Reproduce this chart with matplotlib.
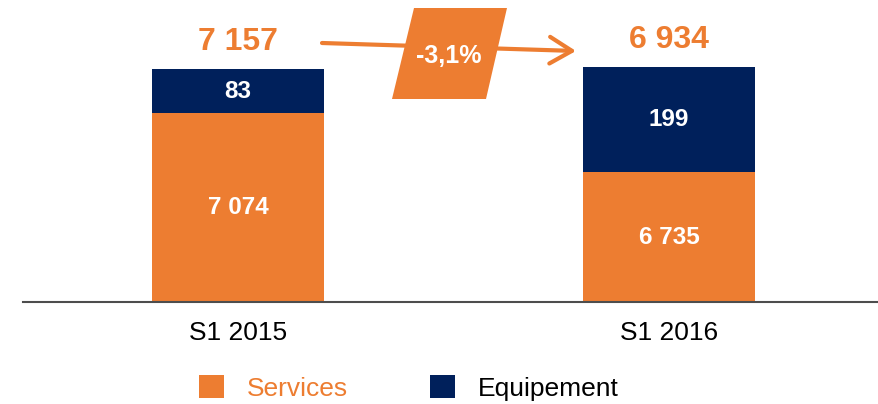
import matplotlib
matplotlib.use('Agg')
import matplotlib.pyplot as plt
from matplotlib.patches import Patch, Polygon

# data
periods = ['S1 2015', 'S1 2016']
services = [7074, 6735]
equipement = [83, 199]
series_names = ['Services', 'Equipement']

ORANGE = '#ED7D31'
NAVY = '#00205B'

# the original slide is not to scale: services sit on a cut axis and the
# equipement block is stretched so the small numbers stay readable
SERV_BASE = 5990
EQ_SCALE = 3.05

W, H = 879, 404
UNITS_PER_PX = 5.747
BASE_PX = 302          # baseline, px from top
X0_PX, STEP_PX = 238, 431

plt.rcParams['font.family'] = ['Liberation Sans', 'DejaVu Sans']
NARROW = ['Liberation Sans Narrow', 'Liberation Sans', 'DejaVu Sans']


def fmt(v):
    return f'{v:,}'.replace(',', ' ')


def fig_xy(x, y):
    # pixel position (from top-left) -> figure fraction
    return x / W, 1 - y / H


def main():
    fig = plt.figure(figsize=(W / 100, H / 100), dpi=100)
    ax = fig.add_axes([0, 0, 1, 1])
    ax.set_xlim(-X0_PX / STEP_PX, (W - X0_PX) / STEP_PX)
    ax.set_ylim(-(H - BASE_PX) * UNITS_PER_PX, BASE_PX * UNITS_PER_PX)
    ax.axis('off')

    xs = list(range(len(periods)))
    serv_h = [s - SERV_BASE for s in services]
    eq_h = [e * EQ_SCALE for e in equipement]
    width = 172 / STEP_PX

    ax.bar(xs, serv_h, width, color=ORANGE, linewidth=0)
    ax.bar(xs, eq_h, width, bottom=serv_h, color=NAVY, linewidth=0)
    ax.axhline(0, xmin=23 / W, xmax=1, color='#4d4d4d', lw=1.5)

    for i in xs:
        ax.text(i, serv_h[i] / 2, fmt(services[i]), ha='center', va='center',
                color='white', fontsize=17.5, fontweight='bold', family=NARROW)
        ax.text(i, serv_h[i] + eq_h[i] / 2, fmt(equipement[i]), ha='center',
                va='center', color='white', fontsize=17.5, fontweight='bold',
                family=NARROW)
        total = services[i] + equipement[i]
        ax.annotate(fmt(total), xy=(i, serv_h[i] + eq_h[i]), xytext=(0, 27),
                    textcoords='offset pixels', ha='center', va='center',
                    color=ORANGE, fontsize=23, fontweight='bold')
        ax.text(i, -31 * UNITS_PER_PX, periods[i], ha='center', va='center',
                fontsize=19, color='black')

    # growth arrow + tag
    totals = [s + e for s, e in zip(services, equipement)]
    growth = (totals[1] - totals[0]) / totals[0] * 100
    ax.annotate('', xy=(576, H - 51), xytext=(322, H - 43),
                xycoords='figure pixels', textcoords='figure pixels',
                arrowprops=dict(arrowstyle='->,head_length=1.0,head_width=0.6',
                                mutation_scale=16, lw=3.0, color=ORANGE,
                                shrinkA=0, shrinkB=0))
    pts = [fig_xy(414, 8), fig_xy(507, 8), fig_xy(486, 99), fig_xy(392, 99)]
    fig.add_artist(Polygon(pts, closed=True, facecolor=ORANGE, edgecolor='none',
                           transform=fig.transFigure, zorder=2))
    fig.text(*fig_xy(449, 56), f'{growth:.1f}%'.replace('.', ','),
             ha='center', va='center', color='white', fontsize=18,
             fontweight='bold', zorder=3)

    handles = [Patch(facecolor=ORANGE, edgecolor='none'),
               Patch(facecolor=NAVY, edgecolor='none')]
    leg = fig.legend(handles, series_names, loc='center',
                     bbox_to_anchor=fig_xy(409, 388), ncol=2, frameon=False,
                     fontsize=19, handlelength=0.95, handleheight=0.95,
                     handletextpad=0.87, columnspacing=3.12, borderpad=0)
    leg.get_texts()[0].set_color(ORANGE)
    leg.get_texts()[1].set_color('black')

    fig.savefig('out.png', dpi=100)


if __name__ == '__main__':
    main()
